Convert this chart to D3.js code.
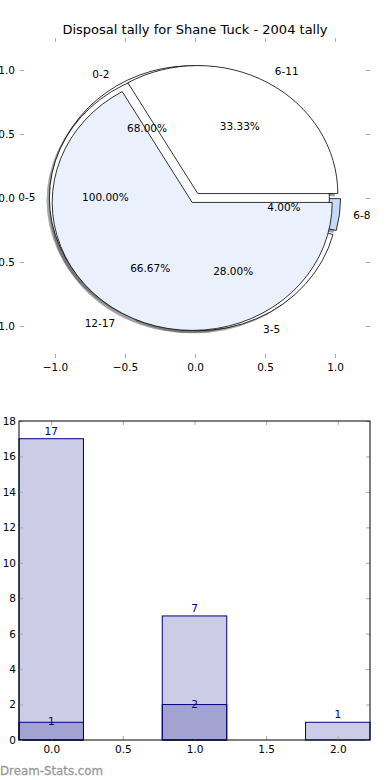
<!DOCTYPE html>
<html>
<head>
<meta charset="utf-8">
<script src="https://cdnjs.cloudflare.com/ajax/libs/d3/7.8.5/d3.min.js"></script>
<style>
	body { margin: 0; background: #fff; }
	svg { font-family: "DejaVu Sans", sans-serif; display: block; }
</style>
</head>
<body>
<div id="chart"></div>
<script>
var width = 390,
	height = 780;

// pie layers, in the order they were drawn
var pieCLabels = ["0-2", "3-5", "6-8"],
	pieCValues = [17, 7, 1],
	pieCColors = ["#ffffff", "#ffffff", "#c6d9f6"];
var pieALabels = ["0-5"],
	pieAValues = [25],
	pieAColors = ["#ffffff"];
var pieBLabels = ["6-11", "12-17"],
	pieBValues = [1, 2],
	pieBColors = ["#ffffff", "#ebf1fc"];
var explode = 0.04;

// bar chart
var barCats = [0, 1, 2],
	barTotals = [17, 7, 1],
	barSubCats = [0, 1],
	barSub = [1, 2];

var pieTicks = [-1, -0.5, 0, 0.5, 1],
	barYTicks = [0, 2, 4, 6, 8, 10, 12, 14, 16, 18],
	barXTicks = [0, 0.5, 1, 1.5, 2];

var svg = d3.select("#chart").append("svg")
	.attr("width", width).attr("height", height);

svg.append("text")
	.attr("x", 195).attr("y", 30)
	.attr("text-anchor", "middle")
	.attr("dominant-baseline", "middle")
	.style("font-size", "13px")
	.text("Disposal tally for Shane Tuck - 2004 tally");

////////////////// pie

var px = d3.scaleLinear().domain([-1.25, 1.25]).range([20, 370]),
	py = d3.scaleLinear().domain([-1.25, 1.25]).range([358, 38]);

var sx = px(1) - px(0), sy = py(0) - py(1);

var pies = [
	{ labels: pieCLabels, values: pieCValues, colors: pieCColors },
	{ labels: pieALabels, values: pieAValues, colors: pieAColors },
	{ labels: pieBLabels, values: pieBValues, colors: pieBColors }
];

var pieGen = d3.pie().sort(null).value(function (d) { return d; });
var arcGen = d3.arc().innerRadius(0).outerRadius(1);

var wedges = [];
pies.forEach(function (p) {
	var total = d3.sum(p.values);
	pieGen(p.values).forEach(function (a, i) {
		// matplotlib angles: counterclockwise from +x
		var t1 = a.startAngle, t2 = a.endAngle, tm = (t1 + t2) / 2;
		wedges.push({
			label: p.labels[i],
			pct: (p.values[i] / total * 100).toFixed(2) + "%",
			color: p.colors[i],
			arc: { startAngle: Math.PI / 2 - t2, endAngle: Math.PI / 2 - t1 },
			ox: explode * Math.cos(tm),
			oy: explode * Math.sin(tm),
			tm: tm
		});
	});
});

var pieG = svg.append("g")
	.attr("transform", "translate(" + px(0) + "," + py(0) + ") scale(" + sx + "," + sy + ")");

// shadows sit under every wedge
pieG.selectAll("path.shadow").data(wedges).enter().append("path")
	.attr("class", "shadow")
	.attr("transform", function (d) { return "translate(" + (d.ox - 0.02) + "," + (-d.oy + 0.02) + ")"; })
	.attr("d", function (d) { return arcGen(d.arc); })
	.attr("fill", function (d) {
		var c = d3.rgb(d.color);
		return d3.rgb(c.r * 0.3, c.g * 0.3, c.b * 0.3);
	})
	.attr("fill-opacity", 0.5);

pieG.selectAll("path.wedge").data(wedges).enter().append("path")
	.attr("class", "wedge")
	.attr("transform", function (d) { return "translate(" + d.ox + "," + (-d.oy) + ")"; })
	.attr("d", function (d) { return arcGen(d.arc); })
	.attr("fill", function (d) { return d.color; })
	.attr("stroke", "#000")
	.attr("stroke-width", 0.8)
	.attr("vector-effect", "non-scaling-stroke");

var pieText = svg.append("g").style("font-size", "10.5px");

pieText.selectAll("text.lab").data(wedges).enter().append("text")
	.attr("x", function (d) { return px(d.ox + 1.1 * Math.cos(d.tm)); })
	.attr("y", function (d) { return py(d.oy + 1.1 * Math.sin(d.tm)); })
	.attr("text-anchor", function (d) { return d.ox + 1.1 * Math.cos(d.tm) > 0 ? "start" : "end"; })
	.attr("dominant-baseline", "middle")
	.text(function (d) { return d.label; });

pieText.selectAll("text.pct").data(wedges).enter().append("text")
	.attr("x", function (d) { return px(d.ox + 0.6 * Math.cos(d.tm)); })
	.attr("y", function (d) { return py(d.oy + 0.6 * Math.sin(d.tm)); })
	.attr("text-anchor", "middle")
	.attr("dominant-baseline", "middle")
	.text(function (d) { return d.pct; });

function styleAxis(g) {
	g.select(".domain").remove();
	g.selectAll(".tick line").attr("stroke", "#aaa");
	g.selectAll(".tick text").attr("fill", "#000").style("font-size", "10.5px")
		.style("font-family", "DejaVu Sans, sans-serif");
}

var fmt1 = d3.format(".1f");

svg.append("g").attr("transform", "translate(0," + py(-1.25) + ")")
	.call(d3.axisBottom(px).tickValues(pieTicks).tickFormat(fmt1).tickSize(-4).tickPadding(6))
	.call(styleAxis);
svg.append("g").attr("transform", "translate(0," + py(1.25) + ")")
	.call(d3.axisTop(px).tickValues(pieTicks).tickFormat("").tickSize(-4))
	.call(styleAxis);
svg.append("g").attr("transform", "translate(" + px(-1.25) + ",0)")
	.call(d3.axisLeft(py).tickValues(pieTicks).tickFormat(fmt1).tickSize(-4).tickPadding(5))
	.call(styleAxis);
svg.append("g").attr("transform", "translate(" + px(1.25) + ",0)")
	.call(d3.axisRight(py).tickValues(pieTicks).tickFormat("").tickSize(-4))
	.call(styleAxis);

////////////////// bars

var bx = d3.scaleLinear().domain([-0.225, 2.225]).range([19, 370]),
	by = d3.scaleLinear().domain([0, 18]).range([740, 421]);
var barW = 0.45;

var barG = svg.append("g");

barG.selectAll("rect.total").data(barTotals).enter().append("rect")
	.attr("x", function (d, i) { return bx(barCats[i] - barW / 2); })
	.attr("y", function (d) { return by(d); })
	.attr("width", bx(barW) - bx(0))
	.attr("height", function (d) { return by(0) - by(d); })
	.attr("fill", "#000080").attr("fill-opacity", 0.2)
	.attr("stroke", "#000080").attr("stroke-width", 1);

barG.selectAll("rect.sub").data(barSub).enter().append("rect")
	.attr("x", function (d, i) { return bx(barSubCats[i] - barW / 2); })
	.attr("y", function (d) { return by(d); })
	.attr("width", bx(barW) - bx(0))
	.attr("height", function (d) { return by(0) - by(d); })
	.attr("fill", "#000080").attr("fill-opacity", 0.2)
	.attr("stroke", "#000080").attr("stroke-width", 1);

barG.selectAll("text.total").data(barTotals).enter().append("text")
	.attr("x", function (d, i) { return bx(barCats[i]); })
	.attr("y", function (d) { return by(d) - 4; })
	.attr("text-anchor", "middle")
	.attr("fill", "#000080")
	.style("font-size", "10.5px")
	.text(function (d) { return d; });

barG.selectAll("text.sub").data(barSub).enter().append("text")
	.attr("x", function (d, i) { return bx(barSubCats[i]); })
	.attr("y", function (d) { return by(d); })
	.attr("text-anchor", "middle")
	.attr("dominant-baseline", "middle")
	.attr("fill", "#000080")
	.style("font-size", "10.5px")
	.text(function (d) { return d; });

svg.append("g").attr("transform", "translate(0,740)")
	.call(d3.axisBottom(bx).tickValues(barXTicks).tickFormat(fmt1).tickSize(-4).tickPadding(6))
	.call(styleAxis);
svg.append("g").attr("transform", "translate(0,421)")
	.call(d3.axisTop(bx).tickValues(barXTicks).tickFormat("").tickSize(-4))
	.call(styleAxis);
svg.append("g").attr("transform", "translate(19,0)")
	.call(d3.axisLeft(by).tickValues(barYTicks).tickFormat(d3.format("d")).tickSize(-4).tickPadding(3))
	.call(styleAxis);
svg.append("g").attr("transform", "translate(370,0)")
	.call(d3.axisRight(by).tickValues(barYTicks).tickFormat("").tickSize(-4))
	.call(styleAxis);

svg.append("rect")
	.attr("x", 19).attr("y", 421)
	.attr("width", 351).attr("height", 319)
	.attr("fill", "none").attr("stroke", "#000").attr("stroke-width", 1);

svg.append("text")
	.attr("x", 0).attr("y", 771)
	.attr("dominant-baseline", "middle")
	.attr("fill", "#999")
	.attr("stroke", "#999").attr("stroke-width", 0.3)
	.style("font-size", "11.8px")
	.text("Dream-Stats.com");
</script>
</body>
</html>
